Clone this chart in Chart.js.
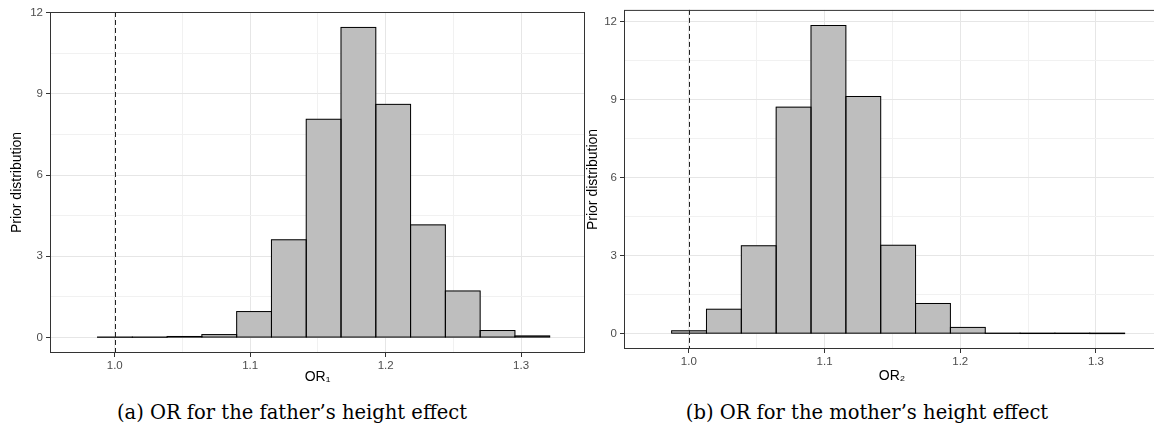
<!DOCTYPE html>
<html>
<head>
<meta charset="utf-8">
<script src="https://cdn.jsdelivr.net/npm/chart.js@4/dist/chart.umd.min.js"></script>
<style>
  html, body { margin: 0; padding: 0; background: #fff; }
  #wrap { position: relative; width: 1154px; height: 431px; overflow: hidden; }
  canvas { position: absolute; top: 0; }
  #chartA { left: 0; }
  #chartB { left: 575px; }
  .cap {
    position: absolute; white-space: nowrap;
    font-family: "DejaVu Serif", serif; font-size: 19.5px; color: #000;
    transform: translate(-50%, -50%);
  }
</style>
</head>
<body>
<div id="wrap">
  <canvas id="chartA" width="600" height="390"></canvas>
  <canvas id="chartB" width="600" height="386"></canvas>
  <div class="cap" style="left:292px; top:412px;">(a) OR for the father’s height effect</div>
  <div class="cap" style="left:867px; top:412px;">(b) OR for the mother’s height effect</div>
</div>
<script>
// histogram bins (mid points), same bins for both priors
var binMids = [1.00014, 1.02582, 1.05150, 1.07718, 1.10286, 1.12854, 1.15422,
               1.17990, 1.20558, 1.23126, 1.25694, 1.28262, 1.30830];
var fatherDensity = [0.01, 0.01, 0.04, 0.11, 0.96, 3.61, 8.06, 11.45, 8.61, 4.16, 1.72, 0.26, 0.06];
var motherDensity = [0.11, 0.94, 3.38, 8.71, 11.85, 9.12, 3.40, 1.16, 0.24, 0.01, 0.005, 0.005, 0.002];

var xMajor = [1.0, 1.1, 1.2, 1.3];
var xLabels = ['1.0', '1.1', '1.2', '1.3'];
var xMinor = [1.05, 1.15, 1.25];
var yMajor = [0, 3, 6, 9, 12];
var yLabels = ['0', '3', '6', '9', '12'];
var yMinor = [1.5, 4.5, 7.5, 10.5];
var refLine = 1.0;

function isMajor(list, v) {
  for (var i = 0; i < list.length; i++) {
    if (Math.abs(list[i] - v) < 1e-6) return i;
  }
  return -1;
}

function tickSet(major, minor) {
  return major.concat(minor).sort(function(a, b) { return a - b; })
    .map(function(v) { return { value: v }; });
}

var histFrame = {
  id: 'histFrame',
  afterDatasetsDraw: function(chart) {
    var ctx = chart.ctx;
    var area = chart.chartArea;
    var xs = chart.scales.x;
    ctx.save();
    // bar outlines, also for the nearly empty bins
    ctx.strokeStyle = '#000';
    ctx.lineWidth = 1;
    chart.getDatasetMeta(0).data.forEach(function(bar) {
      var p = bar.getProps(['x', 'y', 'base', 'width'], true);
      ctx.strokeRect(p.x - p.width / 2, p.y, p.width, p.base - p.y);
    });
    // dashed line at OR = 1
    var xr = Math.round(xs.getPixelForValue(refLine)) + 0.5;
    ctx.strokeStyle = '#222';
    ctx.setLineDash([5, 3]);
    ctx.beginPath();
    ctx.moveTo(xr, area.top);
    ctx.lineTo(xr, area.bottom);
    ctx.stroke();
    ctx.setLineDash([]);
    // panel border
    ctx.strokeStyle = '#333333';
    ctx.strokeRect(area.left + 0.5, area.top + 0.5, area.right - area.left - 1, area.bottom - area.top - 1);
    ctx.restore();
  }
};

function makeHist(id, values, xTitle, opts) {
  var ctx = document.getElementById(id).getContext('2d');
  var points = binMids.map(function(m, i) { return { x: m, y: values[i] }; });
  return new Chart(ctx, {
    type: 'bar',
    data: {
      datasets: [{
        data: points,
        backgroundColor: '#bebebe',
        borderWidth: 0,
        barPercentage: 1,
        categoryPercentage: 1,
        grouped: false
      }]
    },
    options: {
      responsive: false,
      animation: false,
      layout: { padding: { top: opts.top, right: opts.right, left: 0, bottom: 0 } },
      plugins: { legend: { display: false }, tooltip: { enabled: false } },
      scales: {
        x: {
          type: 'linear',
          offset: false,
          min: 0.9522,
          max: 1.3472,
          afterBuildTicks: function(scale) { scale.ticks = tickSet(xMajor, xMinor); },
          afterFit: function(scale) { scale.height = 37; },
          border: { display: false },
          grid: {
            offset: false,
            tickLength: 4,
            color: function(c) { return isMajor(xMajor, c.tick.value) >= 0 ? '#e6e6e6' : '#f1f1f1'; },
            tickColor: function(c) { return isMajor(xMajor, c.tick.value) >= 0 ? '#333333' : 'rgba(0,0,0,0)'; }
          },
          ticks: {
            autoSkip: false,
            maxRotation: 0,
            padding: 2,
            color: '#4d4d4d',
            font: { family: 'Liberation Sans', size: 11.5 },
            callback: function(v) {
              var k = isMajor(xMajor, v);
              return k >= 0 ? xLabels[k] : '';
            }
          },
          title: {
            display: true,
            text: xTitle,
            color: '#000',
            font: { family: 'Liberation Sans', size: 14 },
            padding: { top: 0, bottom: opts.xTitlePad }
          }
        },
        y: {
          min: opts.yMin,
          max: opts.yMax,
          afterBuildTicks: function(scale) { scale.ticks = tickSet(yMajor, yMinor); },
          afterFit: function(scale) { scale.width = opts.yWidth; },
          border: { display: false },
          grid: {
            tickLength: 4,
            color: function(c) { return isMajor(yMajor, c.tick.value) >= 0 ? '#e6e6e6' : '#f1f1f1'; },
            tickColor: function(c) { return isMajor(yMajor, c.tick.value) >= 0 ? '#333333' : 'rgba(0,0,0,0)'; }
          },
          ticks: {
            autoSkip: false,
            padding: 3,
            color: '#4d4d4d',
            font: { family: 'Liberation Sans', size: 11.5 },
            callback: function(v) {
              var k = isMajor(yMajor, v);
              return k >= 0 ? yLabels[k] : '';
            }
          },
          title: {
            display: true,
            text: 'Prior distribution',
            color: '#000',
            font: { family: 'Liberation Sans', size: 14 },
            padding: { top: opts.yTitlePad, bottom: 0 }
          }
        }
      }
    },
    plugins: [histFrame]
  });
}

makeHist('chartA', fatherDensity, 'OR₁', {
  top: 12, right: 15, yWidth: 50, yMin: -0.57, yMax: 12.02, xTitlePad: 4, yTitlePad: 8.6
});
makeHist('chartB', motherDensity, 'OR₂', {
  top: 8, right: 15, yWidth: 49, yMin: -0.59, yMax: 12.45, xTitlePad: 1, yTitlePad: 9.3
});
</script>
</body>
</html>
